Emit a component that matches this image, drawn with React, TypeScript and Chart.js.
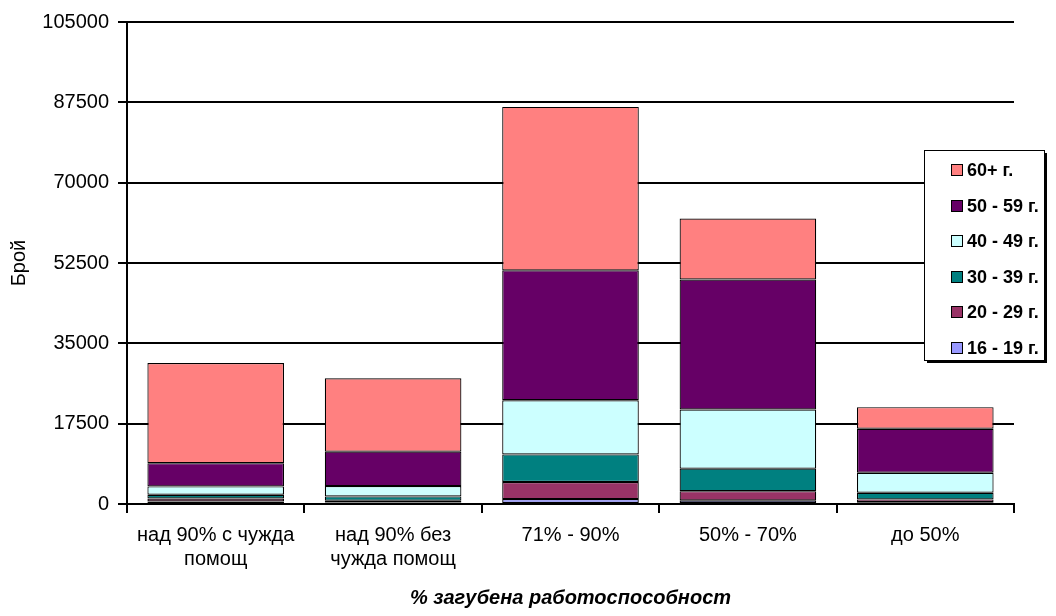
import React, { useEffect, useRef } from "react";
import { Chart, registerables } from "chart.js";

Chart.register(...registerables);

const categories: string[][] = [
  ["над 90% с чужда", "помощ"],
  ["над 90% без", "чужда помощ"],
  ["71% - 90%"],
  ["50% - 70%"],
  ["до 50%"],
];

const seriesLabels = ["16 - 19 г.", "20 - 29 г.", "30 - 39 г.", "40 - 49 г.", "50 - 59 г.", "60+ г."];
const age16to19 = [570, 300, 1070, 800, 400];
const age20to29 = [630, 420, 3730, 2000, 600];
const age30to39 = [800, 940, 6000, 4900, 1460];
const age40to49 = [1830, 2240, 11800, 12900, 4340];
const age50to59 = [5070, 7500, 28300, 28300, 9600];
const age60plus = [21800, 16000, 35600, 13300, 4700];
const seriesColors = ["#9999FF", "#993366", "#008080", "#CCFFFF", "#660066", "#FF8080"];

const Y_MIN = 0;
const Y_MAX = 105000;
const Y_STEP = 17500;

const xTitle = "% загубена работоспособност";
const yTitle = "Брой";

const FONT = "'Liberation Sans', Arial, sans-serif";

const legendPlugin = {
  id: "boxLegend",
  afterDraw(chart: any) {
    const ctx = chart.ctx;
    const x = 924, y = 150, w = 120, h = 210;
    ctx.save();
    ctx.fillStyle = "#000";
    ctx.fillRect(x + 3, y + 3, w, h);
    ctx.fillStyle = "#fff";
    ctx.fillRect(x, y, w, h);
    ctx.strokeStyle = "#000";
    ctx.lineWidth = 1;
    ctx.strokeRect(x + 0.5, y + 0.5, w, h);
    const items = chart.data.datasets.map((d: any) => ({ label: d.label, color: d.backgroundColor })).reverse();
    ctx.font = `bold 18px ${FONT}`;
    ctx.textBaseline = "middle";
    ctx.textAlign = "left";
    items.forEach((it: any, i: number) => {
      const cy = 170 + i * 35.6;
      ctx.fillStyle = it.color;
      ctx.fillRect(951, Math.round(cy - 6), 11, 11);
      ctx.strokeStyle = "#000";
      ctx.strokeRect(951.5, Math.round(cy - 6) + 0.5, 11, 11);
      ctx.fillStyle = "#000";
      ctx.fillText(it.label, 967, cy + 1);
    });
    ctx.restore();
  },
};

export default function App() {
  const ref = useRef<HTMLCanvasElement | null>(null);
  useEffect(() => {
    if (!ref.current) return;
    const values = [age16to19, age20to29, age30to39, age40to49, age50to59, age60plus];
    const chart = new Chart(ref.current, {
      type: "bar",
      data: {
        labels: categories as any,
        datasets: values.map((v, i) => ({
          label: seriesLabels[i],
          data: v,
          backgroundColor: seriesColors[i],
          borderColor: "#000",
          borderWidth: 1.2,
          borderSkipped: false,
          barPercentage: 0.77,
          categoryPercentage: 1,
        })),
      },
      options: {
        animation: false,
        responsive: true,
        maintainAspectRatio: false,
        layout: { padding: { top: 22, right: 42, left: 0, bottom: 0 } },
        plugins: { legend: { display: false }, tooltip: { enabled: false }, title: { display: false } },
        scales: {
          x: {
            stacked: true,
            offset: true,
            grid: {
              display: true,
              offset: true,
              drawOnChartArea: false,
              drawTicks: true,
              tickLength: 9,
              tickWidth: 2,
              tickColor: "#000",
              color: "#000",
              lineWidth: 2,
            },
            border: { display: true, color: "#000", width: 2 },
            ticks: {
              color: "#000",
              font: { family: FONT, size: 20, lineHeight: 1.2 },
              padding: 10,
              maxRotation: 0,
              autoSkip: false,
            },
            title: {
              display: true,
              text: xTitle,
              color: "#000",
              font: { family: FONT, size: 20, style: "italic", weight: "bold", lineHeight: 1.2 },
              padding: { top: 0, bottom: 6 },
            },
            afterFit(scale: any) {
              scale.height = 112;
            },
          },
          y: {
            stacked: true,
            min: Y_MIN,
            max: Y_MAX,
            grid: {
              color: "#000",
              lineWidth: 2,
              drawTicks: true,
              tickLength: 9,
              tickWidth: 2,
              tickColor: "#000",
            },
            border: { display: true, color: "#000", width: 2 },
            ticks: {
              stepSize: Y_STEP,
              color: "#000",
              padding: 9,
              font: { family: FONT, size: 20 },
              callback: (v: any) => String(v),
            },
            title: {
              display: true,
              text: yTitle,
              color: "#000",
              font: { family: FONT, size: 20, lineHeight: 1.2 },
              padding: { top: 7, bottom: 0 },
            },
            afterFit(scale: any) {
              scale.width = 127;
            },
          },
        },
      },
      plugins: [legendPlugin],
    });
    return () => chart.destroy();
  }, []);
  return (
    <div style={{ position: "fixed", left: 0, top: 0, width: 1056, height: 616, background: "#fff" }}>
      <canvas ref={ref} />
    </div>
  );
}
